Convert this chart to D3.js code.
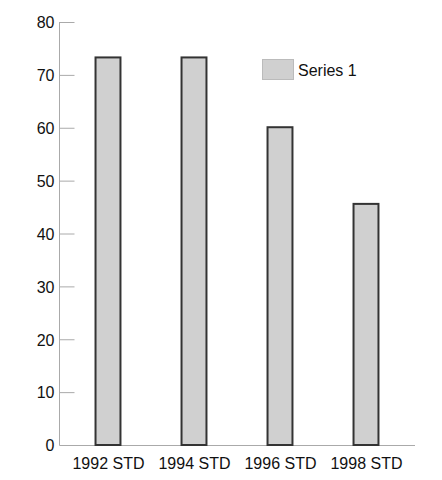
<!DOCTYPE html>
<html><head><meta charset="utf-8">
<script src="https://cdn.jsdelivr.net/npm/d3@7"></script>
<style>body{margin:0;background:#fff;} text{font-family:"Liberation Sans",Arial,Helvetica,sans-serif;fill:#111;}</style>
</head><body><svg id="c" width="442" height="480"></svg>
<script>
const categories = ["1992 STD","1994 STD","1996 STD","1998 STD"];
const values = [73.3, 73.3, 60.1, 45.6];
const yTicks = [0,10,20,30,40,50,60,70,80];
const seriesName = "Series 1";

const svg = d3.select("#c");
const y = d3.scaleLinear().domain([0,80]).range([445,22]);
const x = d3.scaleBand().domain(categories).range([64.5,408.5]).paddingInner(0.71).paddingOuter(0.355);

// y axis
const ya = svg.append("g").attr("transform","translate(59.5,0)")
  .call(d3.axisLeft(y).tickValues(yTicks).tickSize(-15).tickPadding(-20));
ya.select(".domain").attr("stroke","#aaa").attr("d","M0,22V445");
ya.selectAll(".tick line").attr("stroke","#aaa");
ya.selectAll(".tick text").attr("x",-5).attr("text-anchor","end").attr("font-size","16px").attr("dy","0.36em").style("fill","#111");

// x axis line
svg.append("line").attr("x1",59.5).attr("x2",415).attr("y1",445.5).attr("y2",445.5).attr("stroke","#aaa");

// bars
svg.selectAll("rect.bar").data(values).join("rect").attr("class","bar")
  .attr("x",(d,i)=>x(categories[i])+0.5)
  .attr("width",x.bandwidth())
  .attr("y",d=>y(d))
  .attr("height",d=>y(0)-y(d))
  .attr("fill","#d0d0d0").attr("stroke","#333").attr("stroke-width",2);

// x labels
svg.selectAll("text.xl").data(categories).join("text").attr("class","xl")
  .attr("x",d=>x(d)+x.bandwidth()/2+1).attr("y",468.5)
  .attr("text-anchor","middle").attr("font-size","16px").text(d=>d);

// legend
svg.append("rect").attr("x",262.5).attr("y",59.5).attr("width",31).attr("height",20)
  .attr("fill","#d0d0d0").attr("stroke","#bbb").attr("stroke-width",1);
svg.append("text").attr("x",298).attr("y",76).attr("font-size","16px").text(seriesName);
</script></body></html>
